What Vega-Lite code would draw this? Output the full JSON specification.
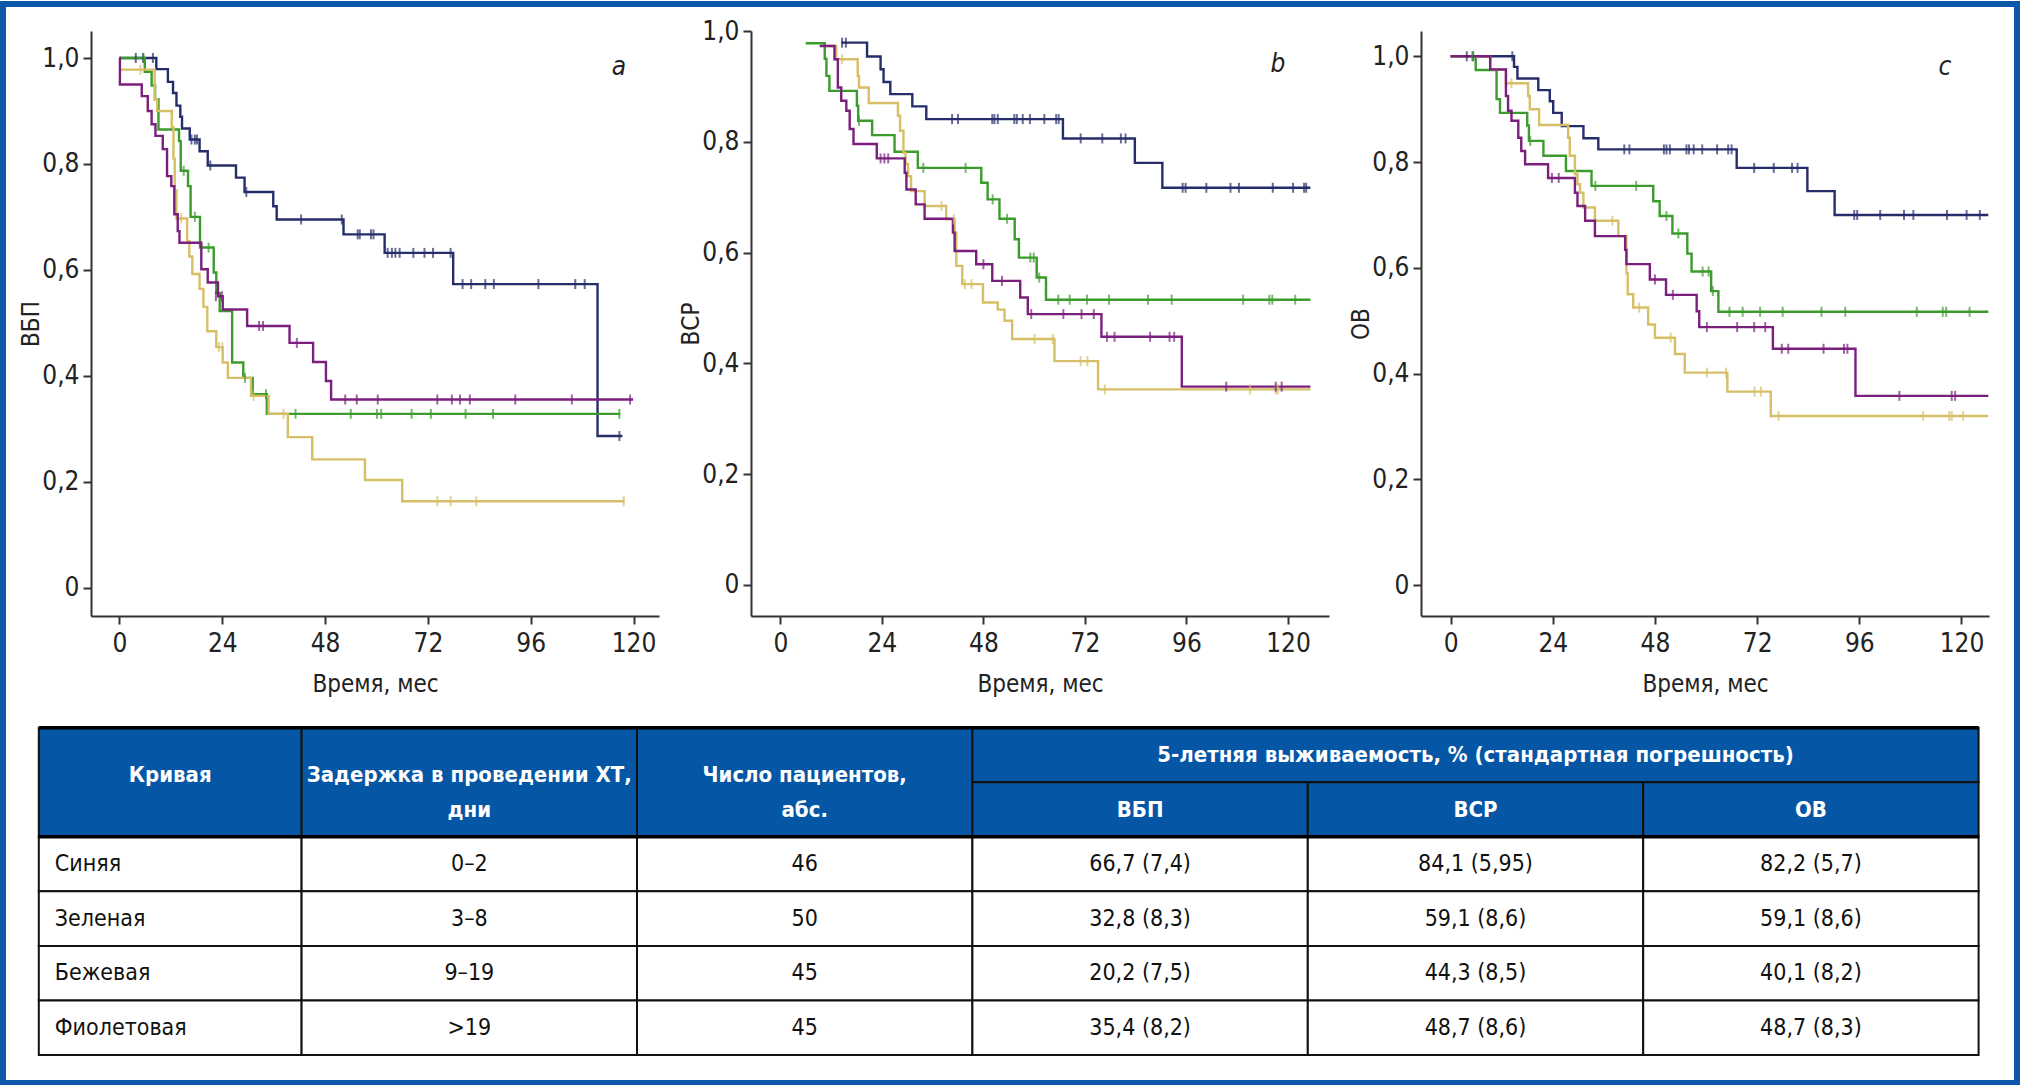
{
"$schema":"https://vega.github.io/schema/vega-lite/v6.json",
"background":"white",
"padding":0,
"autosize":{"type":"pad"},
"bounds":"flush",
"spacing":696.7,
"config":{
 "font":"Liberation Sans Narrow, DejaVu Sans Condensed, Roboto Condensed, Roboto, sans-serif",
 "view":{"stroke":null},
 "axis":{"grid":false,"domainColor":"#333","domainWidth":2,"tickColor":"#333","tickWidth":2,"tickSize":8,"labelFontSize":26,"labelColor":"#222","titleFontSize":24,"titleFontWeight":"normal","titleColor":"#222","labelOverlap":false,"labelFlush":false},
 "axisX":{"labelPadding":6,"titlePadding":16},
 "axisY":{"labelPadding":4,"titlePadding":-1.5}
},
"datasets":{
"curves":[
{"p":"a","g":"Синяя","t":0,"s":1},{"p":"a","g":"Синяя","t":8.6,"s":0.979},{"p":"a","g":"Синяя","t":11.3,"s":0.955},{"p":"a","g":"Синяя","t":12.5,"s":0.934},{"p":"a","g":"Синяя","t":13.3,"s":0.91},{"p":"a","g":"Синяя","t":14.2,"s":0.889},{"p":"a","g":"Синяя","t":14.6,"s":0.867},{"p":"a","g":"Синяя","t":16.4,"s":0.846},{"p":"a","g":"Синяя","t":18.7,"s":0.824},{"p":"a","g":"Синяя","t":20.6,"s":0.797},{"p":"a","g":"Синяя","t":27.2,"s":0.774},{"p":"a","g":"Синяя","t":29.2,"s":0.747},{"p":"a","g":"Синяя","t":35.9,"s":0.72},{"p":"a","g":"Синяя","t":36.7,"s":0.695},{"p":"a","g":"Синяя","t":52.3,"s":0.667},{"p":"a","g":"Синяя","t":61.9,"s":0.632},{"p":"a","g":"Синяя","t":77.9,"s":0.573},{"p":"a","g":"Синяя","t":111.6,"s":0.286},{"p":"a","g":"Синяя","t":117.4,"s":0.286},
{"p":"a","g":"Зеленая","t":0,"s":1},{"p":"a","g":"Зеленая","t":5.9,"s":0.974},{"p":"a","g":"Зеленая","t":7.5,"s":0.948},{"p":"a","g":"Зеленая","t":8.3,"s":0.922},{"p":"a","g":"Зеленая","t":9.1,"s":0.865},{"p":"a","g":"Зеленая","t":13.9,"s":0.843},{"p":"a","g":"Зеленая","t":14.3,"s":0.787},{"p":"a","g":"Зеленая","t":16.0,"s":0.758},{"p":"a","g":"Зеленая","t":16.6,"s":0.70},{"p":"a","g":"Зеленая","t":18.8,"s":0.642},{"p":"a","g":"Зеленая","t":22.0,"s":0.595},{"p":"a","g":"Зеленая","t":22.6,"s":0.556},{"p":"a","g":"Зеленая","t":23.4,"s":0.522},{"p":"a","g":"Зеленая","t":26.3,"s":0.425},{"p":"a","g":"Зеленая","t":28.9,"s":0.396},{"p":"a","g":"Зеленая","t":31.1,"s":0.365},{"p":"a","g":"Зеленая","t":34.4,"s":0.328},{"p":"a","g":"Зеленая","t":116.9,"s":0.328},
{"p":"a","g":"Бежевая","t":0,"s":0.978},{"p":"a","g":"Бежевая","t":8.2,"s":0.922},{"p":"a","g":"Бежевая","t":8.8,"s":0.9},{"p":"a","g":"Бежевая","t":12.2,"s":0.87},{"p":"a","g":"Бежевая","t":12.6,"s":0.81},{"p":"a","g":"Бежевая","t":12.9,"s":0.75},{"p":"a","g":"Бежевая","t":13.3,"s":0.697},{"p":"a","g":"Бежевая","t":15.8,"s":0.654},{"p":"a","g":"Бежевая","t":16.3,"s":0.625},{"p":"a","g":"Бежевая","t":17.0,"s":0.592},{"p":"a","g":"Бежевая","t":18.7,"s":0.564},{"p":"a","g":"Бежевая","t":19.6,"s":0.53},{"p":"a","g":"Бежевая","t":20.5,"s":0.484},{"p":"a","g":"Бежевая","t":22.6,"s":0.454},{"p":"a","g":"Бежевая","t":24.1,"s":0.425},{"p":"a","g":"Бежевая","t":25.3,"s":0.396},{"p":"a","g":"Бежевая","t":30.7,"s":0.362},{"p":"a","g":"Бежевая","t":34.8,"s":0.328},{"p":"a","g":"Бежевая","t":39.3,"s":0.284},{"p":"a","g":"Бежевая","t":45.0,"s":0.242},{"p":"a","g":"Бежевая","t":57.3,"s":0.203},{"p":"a","g":"Бежевая","t":66.0,"s":0.163},{"p":"a","g":"Бежевая","t":117.9,"s":0.163},
{"p":"a","g":"Фиолетовая","t":0,"s":1},{"p":"a","g":"Фиолетовая","t":0.1,"s":0.95},{"p":"a","g":"Фиолетовая","t":5.2,"s":0.928},{"p":"a","g":"Фиолетовая","t":6.6,"s":0.9},{"p":"a","g":"Фиолетовая","t":7.5,"s":0.875},{"p":"a","g":"Фиолетовая","t":8.4,"s":0.853},{"p":"a","g":"Фиолетовая","t":10.1,"s":0.828},{"p":"a","g":"Фиолетовая","t":11.1,"s":0.777},{"p":"a","g":"Фиолетовая","t":12.1,"s":0.758},{"p":"a","g":"Фиолетовая","t":12.8,"s":0.705},{"p":"a","g":"Фиолетовая","t":13.6,"s":0.673},{"p":"a","g":"Фиолетовая","t":14.0,"s":0.651},{"p":"a","g":"Фиолетовая","t":19.1,"s":0.601},{"p":"a","g":"Фиолетовая","t":20.6,"s":0.576},{"p":"a","g":"Фиолетовая","t":23.0,"s":0.55},{"p":"a","g":"Фиолетовая","t":24.1,"s":0.525},{"p":"a","g":"Фиолетовая","t":29.8,"s":0.494},{"p":"a","g":"Фиолетовая","t":39.7,"s":0.462},{"p":"a","g":"Фиолетовая","t":45.2,"s":0.426},{"p":"a","g":"Фиолетовая","t":48.2,"s":0.39},{"p":"a","g":"Фиолетовая","t":49.4,"s":0.355},{"p":"a","g":"Фиолетовая","t":119.9,"s":0.355},
{"p":"b","g":"Синяя","t":14.4,"s":0.979},{"p":"b","g":"Синяя","t":20.5,"s":0.954},{"p":"b","g":"Синяя","t":23.7,"s":0.931},{"p":"b","g":"Синяя","t":24.4,"s":0.908},{"p":"b","g":"Синяя","t":26.0,"s":0.886},{"p":"b","g":"Синяя","t":31.2,"s":0.864},{"p":"b","g":"Синяя","t":34.5,"s":0.841},{"p":"b","g":"Синяя","t":66.8,"s":0.806},{"p":"b","g":"Синяя","t":83.8,"s":0.762},{"p":"b","g":"Синяя","t":90.3,"s":0.717},{"p":"b","g":"Синяя","t":125.3,"s":0.717},
{"p":"b","g":"Зеленая","t":6.0,"s":0.978},{"p":"b","g":"Зеленая","t":10.5,"s":0.95},{"p":"b","g":"Зеленая","t":10.9,"s":0.919},{"p":"b","g":"Зеленая","t":11.6,"s":0.892},{"p":"b","g":"Зеленая","t":18.1,"s":0.865},{"p":"b","g":"Зеленая","t":18.4,"s":0.838},{"p":"b","g":"Зеленая","t":21.7,"s":0.812},{"p":"b","g":"Зеленая","t":27.0,"s":0.782},{"p":"b","g":"Зеленая","t":32.5,"s":0.753},{"p":"b","g":"Зеленая","t":47.5,"s":0.726},{"p":"b","g":"Зеленая","t":49.0,"s":0.696},{"p":"b","g":"Зеленая","t":51.8,"s":0.661},{"p":"b","g":"Зеленая","t":55.4,"s":0.624},{"p":"b","g":"Зеленая","t":56.4,"s":0.591},{"p":"b","g":"Зеленая","t":60.6,"s":0.555},{"p":"b","g":"Зеленая","t":62.8,"s":0.515},{"p":"b","g":"Зеленая","t":125.3,"s":0.515},
{"p":"b","g":"Бежевая","t":11.5,"s":0.973},{"p":"b","g":"Бежевая","t":13.2,"s":0.949},{"p":"b","g":"Бежевая","t":18.3,"s":0.919},{"p":"b","g":"Бежевая","t":18.6,"s":0.898},{"p":"b","g":"Бежевая","t":20.9,"s":0.87},{"p":"b","g":"Бежевая","t":27.8,"s":0.847},{"p":"b","g":"Бежевая","t":28.3,"s":0.82},{"p":"b","g":"Бежевая","t":29.1,"s":0.78},{"p":"b","g":"Бежевая","t":29.6,"s":0.76},{"p":"b","g":"Бежевая","t":30.2,"s":0.738},{"p":"b","g":"Бежевая","t":30.9,"s":0.711},{"p":"b","g":"Бежевая","t":34.1,"s":0.684},{"p":"b","g":"Бежевая","t":39.2,"s":0.66},{"p":"b","g":"Бежевая","t":41.2,"s":0.636},{"p":"b","g":"Бежевая","t":41.6,"s":0.576},{"p":"b","g":"Бежевая","t":43.0,"s":0.543},{"p":"b","g":"Бежевая","t":47.9,"s":0.51},{"p":"b","g":"Бежевая","t":51.4,"s":0.497},{"p":"b","g":"Бежевая","t":53.0,"s":0.477},{"p":"b","g":"Бежевая","t":54.8,"s":0.444},{"p":"b","g":"Бежевая","t":64.8,"s":0.404},{"p":"b","g":"Бежевая","t":75.1,"s":0.353},{"p":"b","g":"Бежевая","t":125.3,"s":0.353},
{"p":"b","g":"Фиолетовая","t":9.3,"s":0.973},{"p":"b","g":"Фиолетовая","t":12.8,"s":0.949},{"p":"b","g":"Фиолетовая","t":13.6,"s":0.898},{"p":"b","g":"Фиолетовая","t":14.4,"s":0.874},{"p":"b","g":"Фиолетовая","t":15.6,"s":0.856},{"p":"b","g":"Фиолетовая","t":16.4,"s":0.823},{"p":"b","g":"Фиолетовая","t":17.3,"s":0.796},{"p":"b","g":"Фиолетовая","t":22.8,"s":0.77},{"p":"b","g":"Фиолетовая","t":29.4,"s":0.744},{"p":"b","g":"Фиолетовая","t":29.8,"s":0.714},{"p":"b","g":"Фиолетовая","t":32.0,"s":0.687},{"p":"b","g":"Фиолетовая","t":34.1,"s":0.661},{"p":"b","g":"Фиолетовая","t":40.8,"s":0.636},{"p":"b","g":"Фиолетовая","t":41.2,"s":0.603},{"p":"b","g":"Фиолетовая","t":46.3,"s":0.579},{"p":"b","g":"Фиолетовая","t":50.1,"s":0.549},{"p":"b","g":"Фиолетовая","t":56.7,"s":0.519},{"p":"b","g":"Фиолетовая","t":58.5,"s":0.489},{"p":"b","g":"Фиолетовая","t":75.9,"s":0.448},{"p":"b","g":"Фиолетовая","t":94.9,"s":0.358},{"p":"b","g":"Фиолетовая","t":125.3,"s":0.358},
{"p":"c","g":"Синяя","t":0,"s":1},{"p":"c","g":"Синяя","t":14.9,"s":0.98},{"p":"c","g":"Синяя","t":15.7,"s":0.958},{"p":"c","g":"Синяя","t":20.6,"s":0.936},{"p":"c","g":"Синяя","t":23.3,"s":0.915},{"p":"c","g":"Синяя","t":24.1,"s":0.893},{"p":"c","g":"Синяя","t":26.1,"s":0.868},{"p":"c","g":"Синяя","t":31.2,"s":0.845},{"p":"c","g":"Синяя","t":34.7,"s":0.824},{"p":"c","g":"Синяя","t":67.2,"s":0.789},{"p":"c","g":"Синяя","t":83.8,"s":0.745},{"p":"c","g":"Синяя","t":90.2,"s":0.70},{"p":"c","g":"Синяя","t":126.3,"s":0.70},
{"p":"c","g":"Зеленая","t":0,"s":1},{"p":"c","g":"Зеленая","t":5.9,"s":0.974},{"p":"c","g":"Зеленая","t":10.8,"s":0.919},{"p":"c","g":"Зеленая","t":11.6,"s":0.893},{"p":"c","g":"Зеленая","t":18.0,"s":0.869},{"p":"c","g":"Зеленая","t":18.4,"s":0.84},{"p":"c","g":"Зеленая","t":21.8,"s":0.812},{"p":"c","g":"Зеленая","t":27.1,"s":0.783},{"p":"c","g":"Зеленая","t":33.1,"s":0.755},{"p":"c","g":"Зеленая","t":47.6,"s":0.726},{"p":"c","g":"Зеленая","t":49.1,"s":0.698},{"p":"c","g":"Зеленая","t":52.1,"s":0.665},{"p":"c","g":"Зеленая","t":55.6,"s":0.627},{"p":"c","g":"Зеленая","t":56.6,"s":0.593},{"p":"c","g":"Зеленая","t":61.2,"s":0.556},{"p":"c","g":"Зеленая","t":62.9,"s":0.517},{"p":"c","g":"Зеленая","t":126.3,"s":0.517},
{"p":"c","g":"Бежевая","t":0,"s":1},{"p":"c","g":"Бежевая","t":9.3,"s":0.975},{"p":"c","g":"Бежевая","t":13.0,"s":0.949},{"p":"c","g":"Бежевая","t":18.2,"s":0.925},{"p":"c","g":"Бежевая","t":18.6,"s":0.9},{"p":"c","g":"Бежевая","t":20.8,"s":0.87},{"p":"c","g":"Бежевая","t":27.6,"s":0.846},{"p":"c","g":"Бежевая","t":28.0,"s":0.812},{"p":"c","g":"Бежевая","t":29.2,"s":0.777},{"p":"c","g":"Бежевая","t":29.8,"s":0.758},{"p":"c","g":"Бежевая","t":30.4,"s":0.742},{"p":"c","g":"Бежевая","t":31.2,"s":0.714},{"p":"c","g":"Бежевая","t":33.9,"s":0.689},{"p":"c","g":"Бежевая","t":39.4,"s":0.66},{"p":"c","g":"Бежевая","t":41.3,"s":0.59},{"p":"c","g":"Бежевая","t":41.6,"s":0.55},{"p":"c","g":"Бежевая","t":42.9,"s":0.525},{"p":"c","g":"Бежевая","t":46.4,"s":0.493},{"p":"c","g":"Бежевая","t":48.0,"s":0.468},{"p":"c","g":"Бежевая","t":52.7,"s":0.437},{"p":"c","g":"Бежевая","t":55.0,"s":0.402},{"p":"c","g":"Бежевая","t":65.0,"s":0.366},{"p":"c","g":"Бежевая","t":75.2,"s":0.32},{"p":"c","g":"Бежевая","t":126.3,"s":0.32},
{"p":"c","g":"Фиолетовая","t":0,"s":1},{"p":"c","g":"Фиолетовая","t":9.3,"s":0.975},{"p":"c","g":"Фиолетовая","t":13.0,"s":0.925},{"p":"c","g":"Фиолетовая","t":13.5,"s":0.897},{"p":"c","g":"Фиолетовая","t":14.3,"s":0.878},{"p":"c","g":"Фиолетовая","t":15.9,"s":0.846},{"p":"c","g":"Фиолетовая","t":16.6,"s":0.821},{"p":"c","g":"Фиолетовая","t":17.5,"s":0.796},{"p":"c","g":"Фиолетовая","t":22.9,"s":0.77},{"p":"c","g":"Фиолетовая","t":29.2,"s":0.742},{"p":"c","g":"Фиолетовая","t":29.8,"s":0.717},{"p":"c","g":"Фиолетовая","t":31.6,"s":0.689},{"p":"c","g":"Фиолетовая","t":33.9,"s":0.66},{"p":"c","g":"Фиолетовая","t":41.0,"s":0.634},{"p":"c","g":"Фиолетовая","t":41.3,"s":0.607},{"p":"c","g":"Фиолетовая","t":46.8,"s":0.578},{"p":"c","g":"Фиолетовая","t":50.6,"s":0.549},{"p":"c","g":"Фиолетовая","t":57.8,"s":0.518},{"p":"c","g":"Фиолетовая","t":58.4,"s":0.488},{"p":"c","g":"Фиолетовая","t":75.7,"s":0.447},{"p":"c","g":"Фиолетовая","t":95.1,"s":0.358},{"p":"c","g":"Фиолетовая","t":126.3,"s":0.358}
],
"cens":[
{"p":"a","g":"Синяя","t":3.8,"s":1},{"p":"a","g":"Синяя","t":5.5,"s":1},{"p":"a","g":"Синяя","t":7.8,"s":1},{"p":"a","g":"Синяя","t":16.8,"s":0.846},{"p":"a","g":"Синяя","t":17.6,"s":0.846},{"p":"a","g":"Синяя","t":18.1,"s":0.846},{"p":"a","g":"Синяя","t":21.2,"s":0.797},{"p":"a","g":"Синяя","t":29.6,"s":0.747},{"p":"a","g":"Синяя","t":42.4,"s":0.695},{"p":"a","g":"Синяя","t":51.9,"s":0.695},{"p":"a","g":"Синяя","t":55.6,"s":0.667},{"p":"a","g":"Синяя","t":56.1,"s":0.667},{"p":"a","g":"Синяя","t":58.7,"s":0.667},{"p":"a","g":"Синяя","t":59.3,"s":0.667},{"p":"a","g":"Синяя","t":62.6,"s":0.632},{"p":"a","g":"Синяя","t":63.6,"s":0.632},{"p":"a","g":"Синяя","t":64.4,"s":0.632},{"p":"a","g":"Синяя","t":65.4,"s":0.632},{"p":"a","g":"Синяя","t":68.6,"s":0.632},{"p":"a","g":"Синяя","t":71.2,"s":0.632},{"p":"a","g":"Синяя","t":73.2,"s":0.632},{"p":"a","g":"Синяя","t":77.3,"s":0.632},{"p":"a","g":"Синяя","t":80.1,"s":0.573},{"p":"a","g":"Синяя","t":82.1,"s":0.573},{"p":"a","g":"Синяя","t":85.4,"s":0.573},{"p":"a","g":"Синяя","t":87.4,"s":0.573},{"p":"a","g":"Синяя","t":97.8,"s":0.573},{"p":"a","g":"Синяя","t":106.4,"s":0.573},{"p":"a","g":"Синяя","t":108.6,"s":0.573},{"p":"a","g":"Синяя","t":116.7,"s":0.286},
{"p":"a","g":"Зеленая","t":5.6,"s":1},{"p":"a","g":"Зеленая","t":15.0,"s":0.787},{"p":"a","g":"Зеленая","t":17.6,"s":0.70},{"p":"a","g":"Зеленая","t":20.8,"s":0.642},{"p":"a","g":"Зеленая","t":29.3,"s":0.396},{"p":"a","g":"Зеленая","t":34.2,"s":0.365},{"p":"a","g":"Зеленая","t":41.1,"s":0.328},{"p":"a","g":"Зеленая","t":54.0,"s":0.328},{"p":"a","g":"Зеленая","t":60.1,"s":0.328},{"p":"a","g":"Зеленая","t":61.1,"s":0.328},{"p":"a","g":"Зеленая","t":68.2,"s":0.328},{"p":"a","g":"Зеленая","t":72.7,"s":0.328},{"p":"a","g":"Зеленая","t":80.8,"s":0.328},{"p":"a","g":"Зеленая","t":87.2,"s":0.328},{"p":"a","g":"Зеленая","t":116.7,"s":0.328},
{"p":"a","g":"Бежевая","t":4.9,"s":0.978},{"p":"a","g":"Бежевая","t":14.4,"s":0.697},{"p":"a","g":"Бежевая","t":23.2,"s":0.454},{"p":"a","g":"Бежевая","t":24.0,"s":0.454},{"p":"a","g":"Бежевая","t":31.3,"s":0.362},{"p":"a","g":"Бежевая","t":38.3,"s":0.328},{"p":"a","g":"Бежевая","t":74.2,"s":0.163},{"p":"a","g":"Бежевая","t":77.3,"s":0.163},{"p":"a","g":"Бежевая","t":83.3,"s":0.163},{"p":"a","g":"Бежевая","t":117.7,"s":0.163},
{"p":"a","g":"Фиолетовая","t":22.5,"s":0.55},{"p":"a","g":"Фиолетовая","t":23.9,"s":0.55},{"p":"a","g":"Фиолетовая","t":32.6,"s":0.494},{"p":"a","g":"Фиолетовая","t":33.5,"s":0.494},{"p":"a","g":"Фиолетовая","t":41.4,"s":0.462},{"p":"a","g":"Фиолетовая","t":52.7,"s":0.355},{"p":"a","g":"Фиолетовая","t":55.4,"s":0.355},{"p":"a","g":"Фиолетовая","t":60.3,"s":0.355},{"p":"a","g":"Фиолетовая","t":74.2,"s":0.355},{"p":"a","g":"Фиолетовая","t":77.6,"s":0.355},{"p":"a","g":"Фиолетовая","t":79.5,"s":0.355},{"p":"a","g":"Фиолетовая","t":81.8,"s":0.355},{"p":"a","g":"Фиолетовая","t":92.4,"s":0.355},{"p":"a","g":"Фиолетовая","t":105.6,"s":0.355},{"p":"a","g":"Фиолетовая","t":119.2,"s":0.355},
{"p":"b","g":"Синяя","t":14.6,"s":0.979},{"p":"b","g":"Синяя","t":15.5,"s":0.979},{"p":"b","g":"Синяя","t":40.6,"s":0.841},{"p":"b","g":"Синяя","t":42.0,"s":0.841},{"p":"b","g":"Синяя","t":50.1,"s":0.841},{"p":"b","g":"Синяя","t":50.6,"s":0.841},{"p":"b","g":"Синяя","t":51.4,"s":0.841},{"p":"b","g":"Синяя","t":55.3,"s":0.841},{"p":"b","g":"Синяя","t":55.9,"s":0.841},{"p":"b","g":"Синяя","t":57.3,"s":0.841},{"p":"b","g":"Синяя","t":59.0,"s":0.841},{"p":"b","g":"Синяя","t":62.4,"s":0.841},{"p":"b","g":"Синяя","t":65.2,"s":0.841},{"p":"b","g":"Синяя","t":65.8,"s":0.841},{"p":"b","g":"Синяя","t":71.0,"s":0.806},{"p":"b","g":"Синяя","t":76.1,"s":0.806},{"p":"b","g":"Синяя","t":80.5,"s":0.806},{"p":"b","g":"Синяя","t":81.6,"s":0.806},{"p":"b","g":"Синяя","t":95.1,"s":0.717},{"p":"b","g":"Синяя","t":95.8,"s":0.717},{"p":"b","g":"Синяя","t":100.7,"s":0.717},{"p":"b","g":"Синяя","t":106.4,"s":0.717},{"p":"b","g":"Синяя","t":108.4,"s":0.717},{"p":"b","g":"Синяя","t":116.4,"s":0.717},{"p":"b","g":"Синяя","t":121.2,"s":0.717},{"p":"b","g":"Синяя","t":123.8,"s":0.717},{"p":"b","g":"Синяя","t":124.3,"s":0.717},
{"p":"b","g":"Зеленая","t":18.6,"s":0.838},{"p":"b","g":"Зеленая","t":33.8,"s":0.753},{"p":"b","g":"Зеленая","t":43.8,"s":0.753},{"p":"b","g":"Зеленая","t":50.2,"s":0.696},{"p":"b","g":"Зеленая","t":53.6,"s":0.661},{"p":"b","g":"Зеленая","t":59.1,"s":0.591},{"p":"b","g":"Зеленая","t":59.9,"s":0.591},{"p":"b","g":"Зеленая","t":61.2,"s":0.555},{"p":"b","g":"Зеленая","t":65.7,"s":0.515},{"p":"b","g":"Зеленая","t":68.4,"s":0.515},{"p":"b","g":"Зеленая","t":72.5,"s":0.515},{"p":"b","g":"Зеленая","t":77.7,"s":0.515},{"p":"b","g":"Зеленая","t":86.9,"s":0.515},{"p":"b","g":"Зеленая","t":92.5,"s":0.515},{"p":"b","g":"Зеленая","t":109.4,"s":0.515},{"p":"b","g":"Зеленая","t":115.6,"s":0.515},{"p":"b","g":"Зеленая","t":116.3,"s":0.515},{"p":"b","g":"Зеленая","t":121.7,"s":0.515},
{"p":"b","g":"Бежевая","t":14.6,"s":0.949},{"p":"b","g":"Бежевая","t":38.1,"s":0.684},{"p":"b","g":"Бежевая","t":41.0,"s":0.66},{"p":"b","g":"Бежевая","t":43.6,"s":0.543},{"p":"b","g":"Бежевая","t":45.2,"s":0.543},{"p":"b","g":"Бежевая","t":60.1,"s":0.444},{"p":"b","g":"Бежевая","t":64.4,"s":0.444},{"p":"b","g":"Бежевая","t":71.0,"s":0.404},{"p":"b","g":"Бежевая","t":72.6,"s":0.404},{"p":"b","g":"Бежевая","t":76.7,"s":0.353},{"p":"b","g":"Бежевая","t":111.0,"s":0.353},{"p":"b","g":"Бежевая","t":117.1,"s":0.353},{"p":"b","g":"Бежевая","t":117.6,"s":0.353},
{"p":"b","g":"Фиолетовая","t":23.7,"s":0.77},{"p":"b","g":"Фиолетовая","t":24.6,"s":0.77},{"p":"b","g":"Фиолетовая","t":25.5,"s":0.77},{"p":"b","g":"Фиолетовая","t":48.0,"s":0.579},{"p":"b","g":"Фиолетовая","t":52.4,"s":0.549},{"p":"b","g":"Фиолетовая","t":59.3,"s":0.489},{"p":"b","g":"Фиолетовая","t":66.9,"s":0.489},{"p":"b","g":"Фиолетовая","t":71.2,"s":0.489},{"p":"b","g":"Фиолетовая","t":74.1,"s":0.489},{"p":"b","g":"Фиолетовая","t":77.2,"s":0.448},{"p":"b","g":"Фиолетовая","t":79.0,"s":0.448},{"p":"b","g":"Фиолетовая","t":87.4,"s":0.448},{"p":"b","g":"Фиолетовая","t":92.0,"s":0.448},{"p":"b","g":"Фиолетовая","t":93.1,"s":0.448},{"p":"b","g":"Фиолетовая","t":105.4,"s":0.358},{"p":"b","g":"Фиолетовая","t":117.1,"s":0.358},{"p":"b","g":"Фиолетовая","t":118.5,"s":0.358},
{"p":"c","g":"Синяя","t":3.8,"s":1},{"p":"c","g":"Синяя","t":5.3,"s":1},{"p":"c","g":"Синяя","t":14.5,"s":1},{"p":"c","g":"Синяя","t":40.8,"s":0.824},{"p":"c","g":"Синяя","t":42.0,"s":0.824},{"p":"c","g":"Синяя","t":50.1,"s":0.824},{"p":"c","g":"Синяя","t":50.7,"s":0.824},{"p":"c","g":"Синяя","t":51.5,"s":0.824},{"p":"c","g":"Синяя","t":55.4,"s":0.824},{"p":"c","g":"Синяя","t":56.0,"s":0.824},{"p":"c","g":"Синяя","t":57.1,"s":0.824},{"p":"c","g":"Синяя","t":59.1,"s":0.824},{"p":"c","g":"Синяя","t":62.6,"s":0.824},{"p":"c","g":"Синяя","t":65.2,"s":0.824},{"p":"c","g":"Синяя","t":66.0,"s":0.824},{"p":"c","g":"Синяя","t":71.3,"s":0.789},{"p":"c","g":"Синяя","t":75.9,"s":0.789},{"p":"c","g":"Синяя","t":80.2,"s":0.789},{"p":"c","g":"Синяя","t":81.5,"s":0.789},{"p":"c","g":"Синяя","t":94.8,"s":0.70},{"p":"c","g":"Синяя","t":95.5,"s":0.70},{"p":"c","g":"Синяя","t":100.9,"s":0.70},{"p":"c","g":"Синяя","t":106.5,"s":0.70},{"p":"c","g":"Синяя","t":108.7,"s":0.70},{"p":"c","g":"Синяя","t":116.6,"s":0.70},{"p":"c","g":"Синяя","t":121.2,"s":0.70},{"p":"c","g":"Синяя","t":124.3,"s":0.70},
{"p":"c","g":"Зеленая","t":5.1,"s":1},{"p":"c","g":"Зеленая","t":18.7,"s":0.84},{"p":"c","g":"Зеленая","t":34.0,"s":0.755},{"p":"c","g":"Зеленая","t":43.6,"s":0.755},{"p":"c","g":"Зеленая","t":50.7,"s":0.698},{"p":"c","g":"Зеленая","t":53.5,"s":0.665},{"p":"c","g":"Зеленая","t":59.2,"s":0.593},{"p":"c","g":"Зеленая","t":60.6,"s":0.593},{"p":"c","g":"Зеленая","t":61.6,"s":0.556},{"p":"c","g":"Зеленая","t":65.5,"s":0.517},{"p":"c","g":"Зеленая","t":68.6,"s":0.517},{"p":"c","g":"Зеленая","t":72.7,"s":0.517},{"p":"c","g":"Зеленая","t":78.0,"s":0.517},{"p":"c","g":"Зеленая","t":87.1,"s":0.517},{"p":"c","g":"Зеленая","t":92.7,"s":0.517},{"p":"c","g":"Зеленая","t":109.5,"s":0.517},{"p":"c","g":"Зеленая","t":115.6,"s":0.517},{"p":"c","g":"Зеленая","t":116.4,"s":0.517},{"p":"c","g":"Зеленая","t":121.9,"s":0.517},
{"p":"c","g":"Бежевая","t":14.3,"s":0.949},{"p":"c","g":"Бежевая","t":38.0,"s":0.689},{"p":"c","g":"Бежевая","t":44.3,"s":0.525},{"p":"c","g":"Бежевая","t":51.7,"s":0.468},{"p":"c","g":"Бежевая","t":60.2,"s":0.402},{"p":"c","g":"Бежевая","t":64.7,"s":0.402},{"p":"c","g":"Бежевая","t":71.4,"s":0.366},{"p":"c","g":"Бежевая","t":72.9,"s":0.366},{"p":"c","g":"Бежевая","t":77.0,"s":0.32},{"p":"c","g":"Бежевая","t":111.0,"s":0.32},{"p":"c","g":"Бежевая","t":117.1,"s":0.32},{"p":"c","g":"Бежевая","t":117.7,"s":0.32},{"p":"c","g":"Бежевая","t":120.4,"s":0.32},
{"p":"c","g":"Фиолетовая","t":23.8,"s":0.77},{"p":"c","g":"Фиолетовая","t":25.4,"s":0.77},{"p":"c","g":"Фиолетовая","t":48.0,"s":0.578},{"p":"c","g":"Фиолетовая","t":52.2,"s":0.549},{"p":"c","g":"Фиолетовая","t":60.2,"s":0.488},{"p":"c","g":"Фиолетовая","t":67.3,"s":0.488},{"p":"c","g":"Фиолетовая","t":71.3,"s":0.488},{"p":"c","g":"Фиолетовая","t":73.9,"s":0.488},{"p":"c","g":"Фиолетовая","t":77.8,"s":0.447},{"p":"c","g":"Фиолетовая","t":79.3,"s":0.447},{"p":"c","g":"Фиолетовая","t":87.6,"s":0.447},{"p":"c","g":"Фиолетовая","t":92.4,"s":0.447},{"p":"c","g":"Фиолетовая","t":93.2,"s":0.447},{"p":"c","g":"Фиолетовая","t":105.4,"s":0.358},{"p":"c","g":"Фиолетовая","t":117.7,"s":0.358},{"p":"c","g":"Фиолетовая","t":118.5,"s":0.358}
],
"hdr":[
{"c0":0,"c1":1,"r0":0,"r1":2,"k":"tall","txt":["Кривая"]},
{"c0":1,"c1":2,"r0":0,"r1":2,"k":"tall","txt":["Задержка в проведении ХТ,","дни"]},
{"c0":2,"c1":3,"r0":0,"r1":2,"k":"tall","txt":["Число пациентов,","абс."]},
{"c0":3,"c1":6,"r0":0,"r1":1,"k":"cell","txt":["5-летняя выживаемость, % (стандартная погрешность)"]},
{"c0":3,"c1":4,"r0":1,"r1":2,"k":"cell","txt":["ВБП"]},
{"c0":4,"c1":5,"r0":1,"r1":2,"k":"cell","txt":["ВСР"]},
{"c0":5,"c1":6,"r0":1,"r1":2,"k":"cell","txt":["ОВ"]}
],
"body":[
{"r":2,"c":0,"v":"Синяя"},{"r":2,"c":1,"v":"0–2"},{"r":2,"c":2,"v":"46"},{"r":2,"c":3,"v":"66,7 (7,4)"},{"r":2,"c":4,"v":"84,1 (5,95)"},{"r":2,"c":5,"v":"82,2 (5,7)"},
{"r":3,"c":0,"v":"Зеленая"},{"r":3,"c":1,"v":"3–8"},{"r":3,"c":2,"v":"50"},{"r":3,"c":3,"v":"32,8 (8,3)"},{"r":3,"c":4,"v":"59,1 (8,6)"},{"r":3,"c":5,"v":"59,1 (8,6)"},
{"r":4,"c":0,"v":"Бежевая"},{"r":4,"c":1,"v":"9–19"},{"r":4,"c":2,"v":"45"},{"r":4,"c":3,"v":"20,2 (7,5)"},{"r":4,"c":4,"v":"44,3 (8,5)"},{"r":4,"c":5,"v":"40,1 (8,2)"},
{"r":5,"c":0,"v":"Фиолетовая"},{"r":5,"c":1,"v":">19"},{"r":5,"c":2,"v":"45"},{"r":5,"c":3,"v":"35,4 (8,2)"},{"r":5,"c":4,"v":"48,7 (8,6)"},{"r":5,"c":5,"v":"48,7 (8,3)"}
]
},
"vconcat":[
{"hconcat":[
 {"width":568,"height":585,
  "layer":[
   {"data":{"name":"curves"},"transform":[{"filter":"datum.p == 'a'"}],"mark":{"type":"line","interpolate":"step-after","strokeWidth":2.4},
    "encoding":{
     "x":{"field":"t","type":"quantitative","scale":{"domain":[-6.65,125.95],"nice":false,"zero":false},"axis":{"values":[0,24,48,72,96,120],"title":"Время, мес"}},
     "y":{"field":"s","type":"quantitative","scale":{"domain":[-0.0538,1.051],"nice":false,"zero":false},"axis":{"values":[0,0.2,0.4,0.6,0.8,1],"title":"ВБП","labelExpr":"datum.value == 0 ? '0' : replace(format(datum.value, '.1f'), '.', ',')"}},
     "color":{"field":"g","type":"nominal","scale":{"domain":["Бежевая","Зеленая","Фиолетовая","Синяя"],"range":["#d6bf66","#3c9b2d","#7b1f7d","#262d6b"]},"legend":null}}},
   {"data":{"name":"cens"},"transform":[{"filter":"datum.p == 'a'"}],"mark":{"type":"tick","orient":"vertical","thickness":2,"size":10},
    "encoding":{"x":{"field":"t","type":"quantitative"},"y":{"field":"s","type":"quantitative"},"color":{"field":"g","type":"nominal","legend":null}}},
   {"data":{"values":[{"lab":"a"}]},"mark":{"type":"text","fontStyle":"italic","fontSize":26,"color":"#222","align":"center","baseline":"middle"},
    "encoding":{"x":{"datum":116.6,"type":"quantitative"},"y":{"datum":0.983,"type":"quantitative"},"text":{"field":"lab","type":"nominal"}}}
  ]},
 {"width":578,"height":585,
  "layer":[
   {"data":{"name":"curves"},"transform":[{"filter":"datum.p == 'b'"}],"mark":{"type":"line","interpolate":"step-after","strokeWidth":2.4},
    "encoding":{
     "x":{"field":"t","type":"quantitative","scale":{"domain":[-6.93,129.69],"nice":false,"zero":false},"axis":{"values":[0,24,48,72,96,120],"title":"Время, мес"}},
     "y":{"field":"s","type":"quantitative","scale":{"domain":[-0.056,1.0],"nice":false,"zero":false},"axis":{"values":[0,0.2,0.4,0.6,0.8,1],"title":"ВСР","labelExpr":"datum.value == 0 ? '0' : replace(format(datum.value, '.1f'), '.', ',')"}},
     "color":{"field":"g","type":"nominal","legend":null}}},
   {"data":{"name":"cens"},"transform":[{"filter":"datum.p == 'b'"}],"mark":{"type":"tick","orient":"vertical","thickness":2,"size":10},
    "encoding":{"x":{"field":"t","type":"quantitative"},"y":{"field":"s","type":"quantitative"},"color":{"field":"g","type":"nominal","legend":null}}},
   {"data":{"values":[{"lab":"b"}]},"mark":{"type":"text","fontStyle":"italic","fontSize":26,"color":"#222","align":"center","baseline":"middle"},
    "encoding":{"x":{"datum":117.6,"type":"quantitative"},"y":{"datum":0.941,"type":"quantitative"},"text":{"field":"lab","type":"nominal"}}}
  ]},
 {"width":568,"height":585,
  "layer":[
   {"data":{"name":"curves"},"transform":[{"filter":"datum.p == 'c'"}],"mark":{"type":"line","interpolate":"step-after","strokeWidth":2.4},
    "encoding":{
     "x":{"field":"t","type":"quantitative","scale":{"domain":[-6.95,126.46],"nice":false,"zero":false},"axis":{"values":[0,24,48,72,96,120],"title":"Время, мес"}},
     "y":{"field":"s","type":"quantitative","scale":{"domain":[-0.0582,1.0478],"nice":false,"zero":false},"axis":{"values":[0,0.2,0.4,0.6,0.8,1],"title":"ОВ","labelExpr":"datum.value == 0 ? '0' : replace(format(datum.value, '.1f'), '.', ',')"}},
     "color":{"field":"g","type":"nominal","legend":null}}},
   {"data":{"name":"cens"},"transform":[{"filter":"datum.p == 'c'"}],"mark":{"type":"tick","orient":"vertical","thickness":2,"size":10},
    "encoding":{"x":{"field":"t","type":"quantitative"},"y":{"field":"s","type":"quantitative"},"color":{"field":"g","type":"nominal","legend":null}}},
   {"data":{"values":[{"lab":"c"}]},"mark":{"type":"text","fontStyle":"italic","fontSize":26,"color":"#222","align":"center","baseline":"middle"},
    "encoding":{"x":{"datum":116.1,"type":"quantitative"},"y":{"datum":0.98,"type":"quantitative"},"text":{"field":"lab","type":"nominal"}}}
  ]}
 ],
 "spacing":92,
 "bounds":"flush",
 "resolve":{"scale":{"x":"independent","y":"independent"}}
},
{"width":1887.6,"height":327.3,
 "layer":[
  {"data":{"name":"hdr"},"mark":{"type":"rect","fill":"#0656a6","stroke":"#111","strokeWidth":2},
   "encoding":{"x":{"field":"c0","type":"quantitative","scale":{"domain":[0,1,6],"range":[-52.2,210.6,1887.6],"nice":false,"zero":false},"axis":null},"x2":{"field":"c1"},"y":{"field":"r0","type":"quantitative","scale":{"domain":[0,6],"range":[0,327.3],"nice":false,"zero":false},"axis":null},"y2":{"field":"r1"}}},
  {"data":{"name":"body"},"transform":[{"calculate":"datum.c + 1","as":"c1"},{"calculate":"datum.r + 1","as":"r1"}],"mark":{"type":"rect","fill":"white","stroke":"#111","strokeWidth":2},
   "encoding":{"x":{"field":"c","type":"quantitative","axis":null},"x2":{"field":"c1"},"y":{"field":"r","type":"quantitative","axis":null},"y2":{"field":"r1"}}},
  {"data":{"values":[{"r":0},{"r":2}]},"mark":{"type":"rule","strokeWidth":3.5,"color":"#000"},
   "encoding":{"x":{"datum":0,"type":"quantitative"},"x2":{"datum":6},"y":{"field":"r","type":"quantitative"}}},
  {"data":{"name":"hdr"},"transform":[{"filter":"datum.k == 'tall'"},{"calculate":"(datum.c0 + datum.c1) / 2","as":"m"}],"mark":{"type":"text","fontWeight":"bold","fontSize":22,"color":"white","align":"center","baseline":"alphabetic","lineHeight":35},
   "encoding":{"x":{"field":"m","type":"quantitative"},"y":{"datum":1,"type":"quantitative"},"text":{"field":"txt"}}},
  {"data":{"name":"hdr"},"transform":[{"filter":"datum.k != 'tall'"},{"calculate":"(datum.c0 + datum.c1) / 2","as":"m"},{"calculate":"(datum.r0 + datum.r1) / 2","as":"ym"}],"mark":{"type":"text","fontWeight":"bold","fontSize":22,"color":"white","align":"center","baseline":"middle"},
   "encoding":{"x":{"field":"m","type":"quantitative"},"y":{"field":"ym","type":"quantitative"},"text":{"field":"txt"}}},
  {"data":{"name":"body"},"transform":[{"filter":"datum.c == 0"},{"calculate":"datum.r + 0.5","as":"ym"}],"mark":{"type":"text","fontSize":23,"color":"#111","align":"left","baseline":"middle","dx":16},
   "encoding":{"x":{"field":"c","type":"quantitative"},"y":{"field":"ym","type":"quantitative"},"text":{"field":"v"}}},
  {"data":{"name":"body"},"transform":[{"filter":"datum.c > 0"},{"calculate":"datum.c + 0.5","as":"m"},{"calculate":"datum.r + 0.5","as":"ym"}],"mark":{"type":"text","fontSize":23,"color":"#111","align":"center","baseline":"middle"},
   "encoding":{"x":{"field":"m","type":"quantitative"},"y":{"field":"ym","type":"quantitative"},"text":{"field":"v"}}},
  {"data":{"values":[{}]},"mark":{"type":"rect","fillOpacity":0,"fill":"white","stroke":"#0b58a8","strokeWidth":6},
   "encoding":{"x":{"datum":-0.1362,"type":"quantitative"},"x2":{"datum":6.1145},"y":{"datum":-13.267,"type":"quantitative"},"y2":{"datum":6.513}}}
 ]}
]
}
